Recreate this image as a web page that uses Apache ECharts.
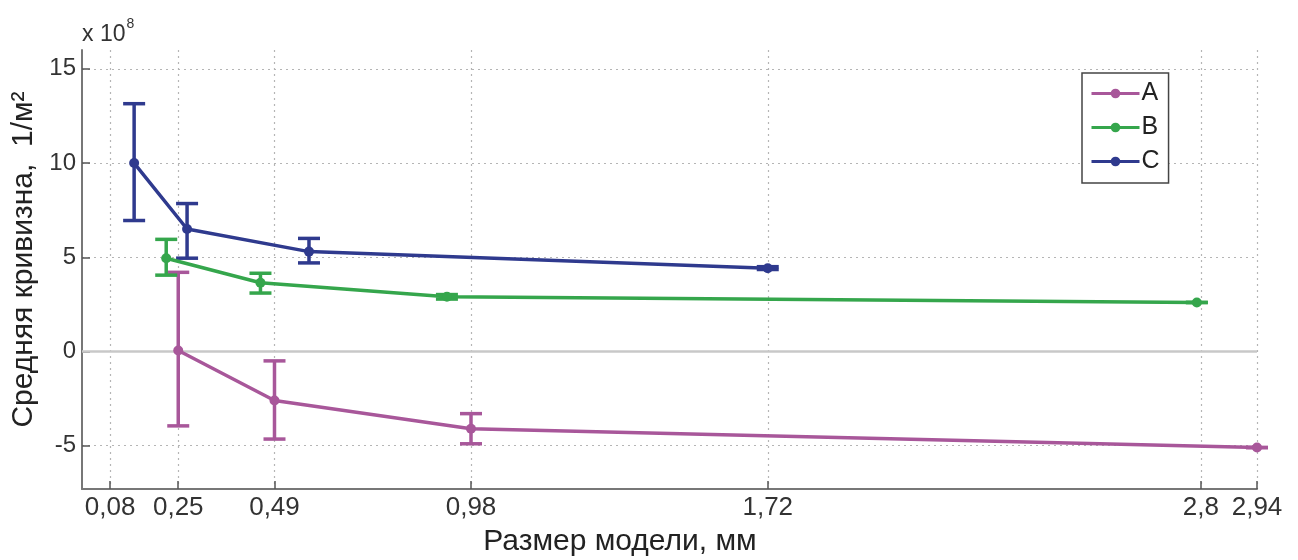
<!DOCTYPE html>
<html>
<head>
<meta charset="utf-8">
<script src="https://cdn.jsdelivr.net/npm/echarts@6/dist/echarts.min.js"></script>
<style>
html,body{margin:0;padding:0;background:#fff;}
#chart{width:1298px;height:560px;}
</style>
</head>
<body>
<div id="chart"></div>
<script>
// x-axis tick values (mm)
const xTicks = [0.08, 0.25, 0.49, 0.98, 1.72, 2.8, 2.94];
const yTicks = [-5, 0, 5, 10, 15];

// Series A
const aX    = [0.25, 0.49, 0.98, 2.94];
const aY    = [0.05, -2.6, -4.1, -5.1];
const aLow  = [-3.95, -4.65, -4.9, -5.1];
const aHigh = [4.2, -0.5, -3.3, -5.1];

// Series B
const bX    = [0.22, 0.455, 0.92, 2.79];
const bY    = [4.95, 3.65, 2.9, 2.6];
const bLow  = [4.05, 3.1, 2.78, 2.6];
const bHigh = [5.95, 4.15, 3.02, 2.6];

// Series C
const cX    = [0.14, 0.272, 0.576, 1.72];
const cY    = [10.0, 6.5, 5.3, 4.42];
const cLow  = [6.95, 4.95, 4.7, 4.35];
const cHigh = [13.15, 7.85, 6.0, 4.5];

const colA = '#a8579a', colB = '#35a64c', colC = '#2f3a8e';
const FONT = 'Liberation Sans';

function pts(xs, ys){ return xs.map((x,i)=>[x, ys[i]]); }
function errData(xs, lo, hi){ return xs.map((x,i)=>[x, lo[i], hi[i]]); }

function errSeries(name, xs, lo, hi, color){
  return {
    type: 'custom',
    name: name + '_err',
    data: errData(xs, lo, hi),
    z: 3,
    silent: true,
    encode: {x: 0, y: [1, 2]},
    renderItem: function(params, api){
      const x = api.value(0);
      const p1 = api.coord([x, api.value(1)]);
      const p2 = api.coord([x, api.value(2)]);
      const hw = 11;
      const style = {stroke: color, lineWidth: 3.5};
      return {
        type: 'group',
        children: [
          {type:'line', shape:{x1:p1[0], y1:p1[1], x2:p2[0], y2:p2[1]}, style: style},
          {type:'line', shape:{x1:p1[0]-hw, y1:p1[1], x2:p1[0]+hw, y2:p1[1]}, style: style},
          {type:'line', shape:{x1:p2[0]-hw, y1:p2[1], x2:p2[0]+hw, y2:p2[1]}, style: style}
        ]
      };
    }
  };
}

function lineSeries(name, xs, ys, color, extra){
  return Object.assign({
    type: 'line',
    name: name,
    data: pts(xs, ys),
    symbol: 'circle',
    symbolSize: 10,
    z: 4,
    lineStyle: {color: color, width: 3.5},
    itemStyle: {color: color},
    emphasis: {disabled: true}
  }, extra || {});
}

const chart = echarts.init(document.getElementById('chart'));
chart.setOption({
  animation: false,
  backgroundColor: '#fff',
  textStyle: {fontFamily: FONT},
  grid: {left: 82, right: 41, top: 50, bottom: 71},
  legend: {
    data: ['A', 'B', 'C'],
    orient: 'vertical',
    left: 1082,
    top: 73,
    itemWidth: 48,
    itemHeight: 12,
    itemGap: 9,
    padding: [8, 9, 9, 8],
    borderColor: '#444',
    borderWidth: 1.5,
    backgroundColor: '#fff',
    lineStyle: {width: 3},
    textStyle: {fontFamily: FONT, fontSize: 25, color: '#222', padding: [0,0,0,-3]}
  },
  xAxis: {
    type: 'value',
    min: 0.01,
    max: 2.94,
    axisLine: {onZero: false, lineStyle: {color: '#777', width: 2}},
    axisTick: {show: true, inside: true, length: 8, customValues: xTicks, lineStyle: {color: '#555', width: 1.5}},
    axisLabel: {
      customValues: xTicks,
      fontSize: 26, color: '#333', margin: 6, fontFamily: FONT,
      formatter: v => String(v).replace('.', ',')
    },
    splitLine: {show: true, lineStyle: {type: [2, 4], color: '#b5b5b5', width: 1.2}}
  },
  yAxis: {
    type: 'value',
    min: -7.3,
    max: 16,
    name: 'Средняя кривизна,  1/м²',
    nameLocation: 'middle',
    nameRotate: 90,
    nameGap: 36,
    nameTextStyle: {fontSize: 30, color: '#222', fontFamily: FONT, padding: [0, 0, 0, 20]},
    axisLine: {show: true, lineStyle: {color: '#777', width: 2}},
    axisTick: {show: true, inside: true, length: 8, customValues: yTicks, lineStyle: {color: '#555', width: 1.5}},
    axisLabel: {customValues: yTicks, fontSize: 24, color: '#333', margin: 6, fontFamily: FONT},
    splitLine: {show: true, lineStyle: {type: [2, 4], color: '#b5b5b5', width: 1.2}}
  },
  graphic: [
    {
      type: 'text', left: 82, top: 17,
      style: {
        text: '{a|x 10}{b|8}',
        rich: {
          a: {fontSize: 23, fill: '#333', fontFamily: FONT, verticalAlign: 'bottom'},
          b: {fontSize: 14, fill: '#333', fontFamily: FONT, verticalAlign: 'top', padding: [0,0,15,1]}
        }
      }
    },
    {
      type: 'text', x: 620, y: 542,
      style: {text: 'Размер модели, мм', fontSize: 30, fill: '#222', fontFamily: FONT, align: 'center', verticalAlign: 'middle'}
    }
  ],
  series: [
    errSeries('A', aX, aLow, aHigh, colA),
    errSeries('B', bX, bLow, bHigh, colB),
    errSeries('C', cX, cLow, cHigh, colC),
    lineSeries('A', aX, aY, colA, {
      markLine: {
        silent: true, symbol: 'none', z: 1, label: {show: false},
        lineStyle: {color: '#c8c8c8', width: 2.5, type: 'solid'},
        data: [{yAxis: 0}]
      }
    }),
    lineSeries('B', bX, bY, colB),
    lineSeries('C', cX, cY, colC)
  ]
});
</script>
</body>
</html>
